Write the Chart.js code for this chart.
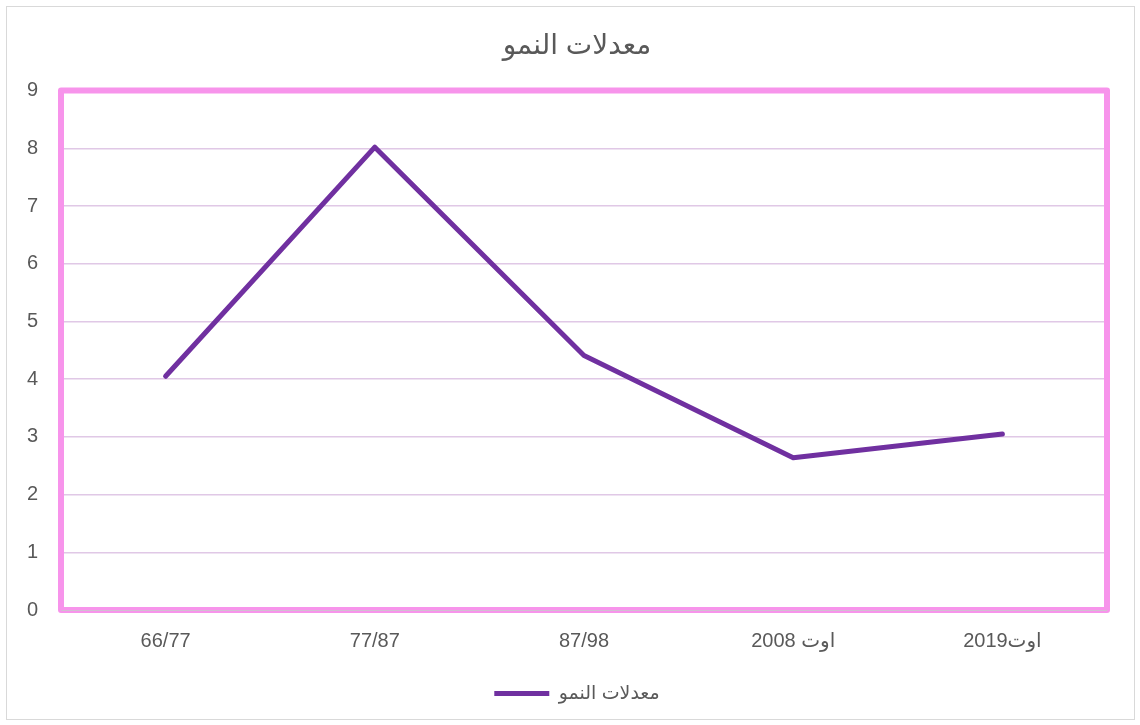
<!DOCTYPE html>
<html>
<head>
<meta charset="utf-8">
<script src="https://cdn.jsdelivr.net/npm/chart.js@4"></script>
<style>
  body { margin: 0; background: #fff; }
  #wrap { position: absolute; left: 6px; top: 6px; width: 1127px; height: 712px; border: 1px solid #d9d9d9; }
</style>
</head>
<body>
<div id="wrap"><canvas id="chart"></canvas></div>
<script>
// chart data
const categories = ['66/77', '77/87', '87/98', 'اوت 2008', 'اوت2019'];
const growthRates = [4.05, 8.02, 4.41, 2.64, 3.05];
const seriesName = 'معدلات النمو';
const chartTitle = 'معدلات النمو';

const fontFamily = '"Liberation Sans", "DejaVu Sans", sans-serif';

// pink frame around the plot area, like the original
const plotFrame = {
    id: 'plotFrame',
    afterDraw(chart) {
        const a = chart.chartArea;
        const ctx = chart.ctx;
        ctx.save();
        ctx.strokeStyle = '#f794eb';
        ctx.lineWidth = 6;
        ctx.lineJoin = 'round';
        ctx.strokeRect(a.left, a.top, a.right - a.left, a.bottom - a.top);
        ctx.strokeStyle = '#d0c0d0';
        ctx.lineWidth = 1;
        ctx.beginPath();
        ctx.moveTo(a.left, a.bottom + 0.5);
        ctx.lineTo(a.right, a.bottom + 0.5);
        ctx.stroke();
        ctx.restore();
    }
};

const ctx = document.getElementById('chart').getContext('2d');
new Chart(ctx, {
    type: 'line',
    data: {
        labels: categories,
        datasets: [{
            label: seriesName,
            data: growthRates,
            borderColor: '#7030a0',
            backgroundColor: '#7030a0',
            borderWidth: 5,
            borderCapStyle: 'round',
            borderJoinStyle: 'round',
            pointRadius: 0,
            tension: 0
        }]
    },
    options: {
        responsive: true,
        maintainAspectRatio: false,
        animation: false,
        // left padding keeps title and legend centred over the plot, as in the original
        layout: { padding: { left: 40, right: 27, top: 10, bottom: 6 } },
        plugins: {
            title: {
                display: true,
                text: chartTitle,
                color: '#595959',
                font: { family: fontFamily, size: 28, weight: 'normal' },
                padding: { top: 12, bottom: 28 }
            },
            legend: {
                position: 'bottom',
                labels: {
                    color: '#595959',
                    font: { family: fontFamily, size: 19 },
                    usePointStyle: true,
                    pointStyle: 'line',
                    pointStyleWidth: 55,
                    padding: 12
                }
            },
            tooltip: { enabled: false }
        },
        scales: {
            x: {
                offset: true,
                grid: { display: false, drawTicks: false },
                border: { display: false },
                ticks: {
                    color: '#595959',
                    font: { family: fontFamily, size: 20 },
                    padding: 19,
                    maxRotation: 0
                }
            },
            y: {
                min: 0,
                max: 9,
                afterFit(scale) { scale.width = 14; },
                grid: { color: '#e0c8e6', lineWidth: 1.5, drawTicks: false },
                border: { display: false },
                ticks: {
                    stepSize: 1,
                    color: '#595959',
                    font: { family: fontFamily, size: 20 },
                    // mirrored with negative padding so labels sit left of the plot without clipping
                    mirror: true,
                    padding: -34
                }
            }
        }
    },
    plugins: [plotFrame]
});
</script>
</body>
</html>
